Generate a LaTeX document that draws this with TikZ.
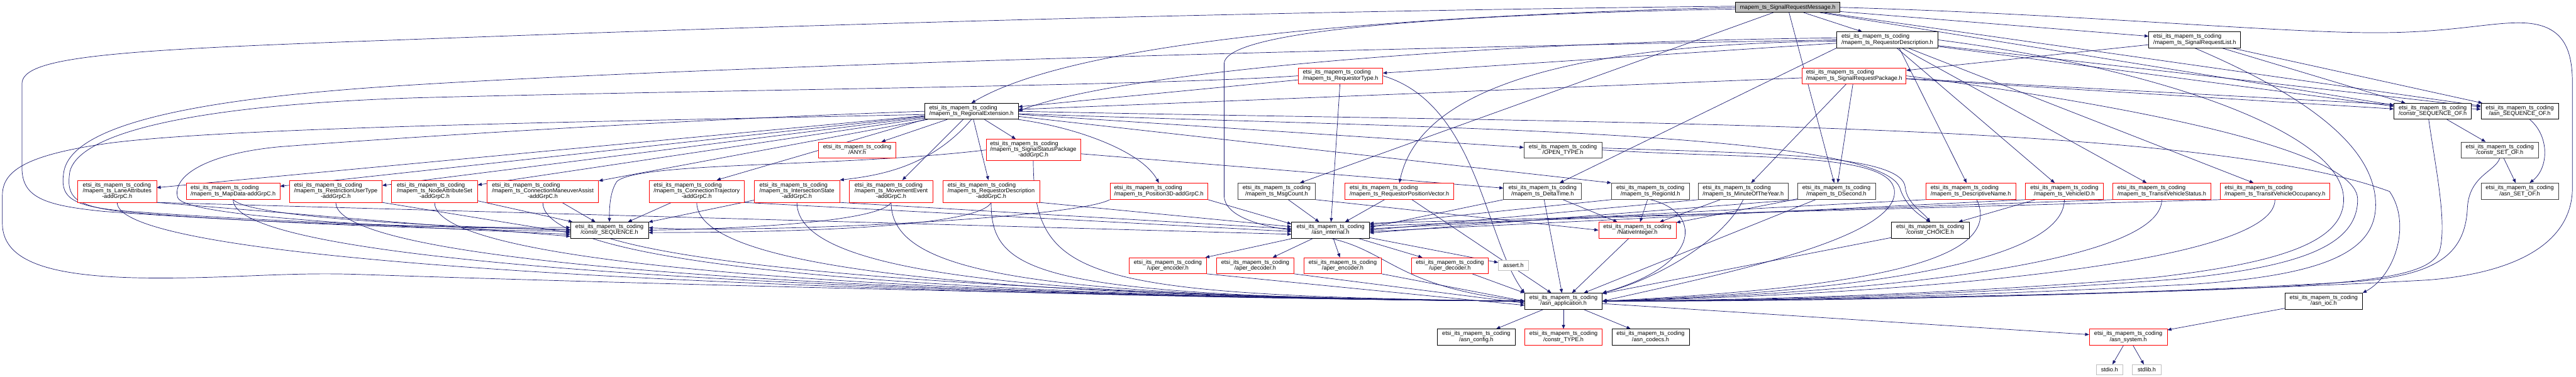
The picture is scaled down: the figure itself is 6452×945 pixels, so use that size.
\documentclass[tikz,border=0pt]{standalone}
\usepackage{fontspec}
\setmainfont{Liberation Sans}
\usetikzlibrary{arrows.meta}
\pgfdeclarelayer{background}
\pgfsetlayers{background,main}
\definecolor{edgeblue}{HTML}{191970}
\definecolor{greyfill}{HTML}{BFBFBF}
\definecolor{greyline}{HTML}{BFBFBF}
\definecolor{darkline}{HTML}{404040}
\newcommand{\Epre}{etsi\_its\_mapem\_ts\_coding}
\newcommand{\twol}[2]{\begin{tabular}{@{}c@{}}\multicolumn{1}{@{}l@{}}{#1}\\#2\end{tabular}}
\newcommand{\threel}[3]{\begin{tabular}{@{}c@{}}\multicolumn{1}{@{}l@{}}{#1}\\\multicolumn{1}{@{}l@{}}{#2}\\#3\end{tabular}}
\newcommand{\mkbox}[7]{\node[#2, minimum width=#5pt, minimum height=#6pt] (#1) at (#3pt,-#4pt) {#7};}
\tikzset{
  gbox/.style={draw, rectangle, fill=white, inner sep=0pt, line width=1.1pt, font=\fontsize{14.4}{14}\selectfont},
  nb/.style={gbox, draw=black},
  ndk/.style={gbox, draw=darkline},
  nr/.style={gbox, draw=red},
  ng/.style={gbox, draw=greyline},
  nroot/.style={gbox, draw=black, fill=greyfill},
  dep/.style={draw=edgeblue, line width=1.1pt, -{Triangle[length=10pt,width=8pt]}},
}
\begin{document}
\begin{tikzpicture}[x=1pt,y=-1pt]
\useasboundingbox (0,0) rectangle (6452,945);
% ---------------- nodes (centre x, centre y, width, height) ----------------
\mkbox{root}{nroot}{4477.5}{18.5}{261}{25}{mapem\_ts\_SignalRequestMessage.h}
\mkbox{rd}{nb}{4727}{100}{254}{40}{\twol{\Epre}{/mapem\_ts\_RequestorDescription.h}}
\mkbox{srl}{nb}{5497}{100}{230}{40}{\twol{\Epre}{/mapem\_ts\_SignalRequestList.h}}
\mkbox{srp}{nr}{4644}{190}{260}{40}{\twol{\Epre}{/mapem\_ts\_SignalRequestPackage.h}}
\mkbox{rtype}{nr}{3357.5}{190}{211}{40}{\twol{\Epre}{/mapem\_ts\_RequestorType.h}}
\mkbox{rx}{nb}{2433}{279}{234}{40}{\twol{\Epre}{/mapem\_ts\_RegionalExtension.h}}
\mkbox{cso}{nb}{6093}{279}{194}{40}{\twol{\Epre}{/constr\_SEQUENCE\_OF.h}}
\mkbox{aso}{nb}{6311}{279}{194}{40}{\twol{\Epre}{/asn\_SEQUENCE\_OF.h}}
\mkbox{any}{nr}{2147}{376}{194}{40}{\twol{\Epre}{/ANY.h}}
\mkbox{ssp}{nr}{2588}{376}{236}{54}{\threel{\Epre}{/mapem\_ts\_SignalStatusPackage}{-addGrpC.h}}
\mkbox{otype}{ndk}{3914.5}{376}{195}{40}{\twol{\Epre}{/OPEN\_TYPE.h}}
\mkbox{cset}{ndk}{6261}{376}{194}{40}{\twol{\Epre}{/constr\_SET\_OF.h}}
\mkbox{la}{nr}{293.5}{479.5}{197}{55}{\threel{\Epre}{/mapem\_ts\_LaneAttributes}{-addGrpC.h}}
\mkbox{md}{nr}{584}{479.5}{234}{41}{\twol{\Epre}{/mapem\_ts\_MapData-addGrpC.h}}
\mkbox{rut}{nr}{841}{479.5}{232}{55}{\threel{\Epre}{/mapem\_ts\_RestrictionUserType}{-addGrpC.h}}
\mkbox{nas}{nr}{1088.5}{479.5}{215}{55}{\threel{\Epre}{/mapem\_ts\_NodeAttributeSet}{-addGrpC.h}}
\mkbox{cma}{nr}{1359.5}{479.5}{279}{55}{\threel{\Epre}{/mapem\_ts\_ConnectionManeuverAssist}{-addGrpC.h}}
\mkbox{ctr}{nr}{1745}{479.5}{238}{55}{\threel{\Epre}{/mapem\_ts\_ConnectionTrajectory}{-addGrpC.h}}
\mkbox{ist}{nr}{1996}{479.5}{214}{55}{\threel{\Epre}{/mapem\_ts\_IntersectionState}{-addGrpC.h}}
\mkbox{mev}{nr}{2232}{479.5}{210}{55}{\threel{\Epre}{/mapem\_ts\_MovementEvent}{-addGrpC.h}}
\mkbox{rda}{nr}{2482.5}{479.5}{243}{55}{\threel{\Epre}{/mapem\_ts\_RequestorDescription}{-addGrpC.h}}
\mkbox{p3d}{nr}{2902.5}{479.5}{245}{41}{\twol{\Epre}{/mapem\_ts\_Position3D-addGrpC.h}}
\mkbox{msg}{ndk}{3197.5}{479.5}{195}{41}{\twol{\Epre}{/mapem\_ts\_MsgCount.h}}
\mkbox{rpv}{nr}{3505}{479.5}{272}{41}{\twol{\Epre}{/mapem\_ts\_RequestorPositionVector.h}}
\mkbox{dt}{ndk}{3863.5}{479.5}{195}{41}{\twol{\Epre}{/mapem\_ts\_DeltaTime.h}}
\mkbox{rid}{ndk}{4133.5}{479.5}{195}{41}{\twol{\Epre}{/mapem\_ts\_RegionId.h}}
\mkbox{moy}{ndk}{4366}{479.5}{224}{41}{\twol{\Epre}{/mapem\_ts\_MinuteOfTheYear.h}}
\mkbox{dsec}{ndk}{4599.5}{479.5}{195}{41}{\twol{\Epre}{/mapem\_ts\_DSecond.h}}
\mkbox{dn}{nr}{4936}{479.5}{226}{41}{\twol{\Epre}{/mapem\_ts\_DescriptiveName.h}}
\mkbox{vid}{nr}{5170.5}{479.5}{195}{41}{\twol{\Epre}{/mapem\_ts\_VehicleID.h}}
\mkbox{tvs}{nr}{5414.5}{479.5}{245}{41}{\twol{\Epre}{/mapem\_ts\_TransitVehicleStatus.h}}
\mkbox{tvo}{nr}{5698}{479.5}{274}{41}{\twol{\Epre}{/mapem\_ts\_TransitVehicleOccupancy.h}}
\mkbox{aset}{ndk}{6311}{479.5}{194}{41}{\twol{\Epre}{/asn\_SET\_OF.h}}
\mkbox{cseq}{nb}{1526.5}{577}{195}{40}{\twol{\Epre}{/constr\_SEQUENCE.h}}
\mkbox{aint}{nb}{3332.5}{577}{195}{40}{\twol{\Epre}{/asn\_internal.h}}
\mkbox{nint}{nr}{4101}{577}{194}{40}{\twol{\Epre}{/NativeInteger.h}}
\mkbox{cch}{nb}{4834.5}{577}{195}{40}{\twol{\Epre}{/constr\_CHOICE.h}}
\mkbox{uenc}{nr}{2925}{666}{194}{40}{\twol{\Epre}{/uper\_encoder.h}}
\mkbox{adec}{nr}{3144}{666}{194}{40}{\twol{\Epre}{/aper\_decoder.h}}
\mkbox{aenc}{nr}{3363}{666}{194}{40}{\twol{\Epre}{/aper\_encoder.h}}
\mkbox{udec}{nr}{3631.5}{666}{193}{40}{\twol{\Epre}{/uper\_decoder.h}}
\mkbox{assert}{ng}{3790.5}{665.5}{75}{25}{assert.h}
\mkbox{aapp}{nb}{3916}{755}{194}{40}{\twol{\Epre}{/asn\_application.h}}
\mkbox{aioc}{nb}{5820}{755}{194}{40}{\twol{\Epre}{/asn\_ioc.h}}
\mkbox{acfg}{nb}{3697.5}{845}{195}{40}{\twol{\Epre}{/asn\_config.h}}
\mkbox{ctype}{nr}{3916}{845}{194}{40}{\twol{\Epre}{/constr\_TYPE.h}}
\mkbox{acod}{nb}{4134}{845}{194}{40}{\twol{\Epre}{/asn\_codecs.h}}
\mkbox{asys}{nr}{5330.5}{845}{195}{40}{\twol{\Epre}{/asn\_system.h}}
\mkbox{stdio}{ng}{5283.5}{926.5}{67}{25}{stdio.h}
\mkbox{stdlib}{ng}{5377}{926.5}{72}{25}{stdlib.h}
% ---------------- edges ----------------
\begin{pgfonlayer}{background}
\fill[white] (0,0) rectangle (6452,945);
\foreach \src/\dst in {root/rd, root/srl, root/cso, root/aso, root/msg, root/dsec,
  rd/rtype, rd/vid, rd/tvs, rd/tvo, rd/cso, rd/aso,
  srl/srp, srl/cso, srl/aso,
  srp/rx, srp/moy, srp/dsec, srp/cso, srp/aso,
  rtype/rx, rtype/aint,
  rx/la, rx/md, rx/rut, rx/nas, rx/cma, rx/mev, rx/rda, rx/ssp, rx/any, rx/otype,
  ssp/dt, nas/cseq, cma/cseq, ctr/cseq, ist/cseq,
  msg/aint, rpv/aint, rpv/aapp, dt/nint, rid/nint, moy/nint, dsec/nint, vid/cch,
  dt/aapp, dsec/aapp, cso/cset, cset/aset, nint/aapp, cch/aapp,
  aint/uenc, aint/adec, aint/aenc, aint/udec, aint/assert,
  aapp/acfg, aapp/ctype, aapp/acod, aapp/asys, aioc/asys, asys/stdio, asys/stdlib}
  \draw[dep] (\src) -- (\dst);
% root
\draw[dep] (root.west) .. controls (3500,40) and (2700,100) .. (rx.north);
\draw[dep] ([yshift=-4pt]root.west) .. controls (3700,35) and (3066,70) .. (3066,160) -- (3066,490) .. controls (3066,540) and (3150,565) .. (aint.west);
\draw[dep] ([yshift=3pt]root.west) .. controls (3000,30) and (1800,70) .. (1000,100) .. controls (300,125) and (55,140) .. (55,210) -- (55,420) .. controls (55,495) and (110,515) .. (260,530) .. controls (700,562) and (1100,572) .. (cseq.176);
\draw[dep] (root.east) .. controls (5200,35) and (5700,82) .. (5950,82) .. controls (6150,82) and (6250,52) .. (6330,58) .. controls (6425,66) and (6443,130) .. (6443,210) -- (6443,470) .. controls (6443,610) and (6300,685) .. (6080,702) .. controls (5500,735) and (4600,752) .. (aapp.east);
% requestor description
\draw[dep] (rd.west) .. controls (3200,125) and (1700,170) .. (1000,215) .. controls (450,250) and (180,320) .. (160,430) .. controls (150,490) and (170,515) .. (300,528) .. controls (700,558) and (1100,570) .. (cseq.179);
\draw[dep] ([yshift=-3pt]rd.west) .. controls (4000,110) and (3560,200) .. (rpv.north);
\draw[dep] ([yshift=5pt]rd.west) .. controls (3700,105) and (2800,180) .. (rx.east);
\draw[dep] (rd.south west) -- (dt);
\draw[dep] ([xshift=30pt]rd.south) -- (dn);
\draw[dep] (rd.east) .. controls (5400,170) and (5870,330) .. (5870,500) .. controls (5870,610) and (5700,660) .. (5400,695) .. controls (4900,738) and (4400,752) .. (aapp.east);
% signal request list / package
\draw[dep] (srl.south) .. controls (5800,250) and (5955,380) .. (5950,520) .. controls (5945,640) and (5800,690) .. (5500,712) .. controls (4900,745) and (4400,754) .. (aapp.east);
\draw[dep] (srp.east) .. controls (5300,260) and (5905,370) .. (5905,500) .. controls (5905,620) and (5750,670) .. (5450,700) .. controls (4900,742) and (4400,753) .. (aapp.east);
% requestor type
\draw[dep] (rtype.west) .. controls (2900,215) and (1800,225) .. (1050,245) .. controls (500,262) and (200,330) .. (175,430) .. controls (165,495) and (185,518) .. (320,532) .. controls (700,562) and (1100,574) .. (cseq.182);
\draw[dep] (rtype.east) .. controls (3700,260) and (3720,600) .. (aapp.north west);
% regional extension
\draw[dep] (rx.west) .. controls (1700,300) and (1000,345) .. (700,368) .. controls (520,385) and (430,440) .. (445,495) .. controls (460,540) and (900,565) .. (cseq.186);
\draw[dep] ([yshift=-8pt]rx.west) .. controls (1500,305) and (600,318) .. (280,358) .. controls (60,388) and (6,430) .. (6,490) -- (6,560) .. controls (6,665) and (150,697) .. (400,697) .. controls (600,697) and (720,682) .. (900,688) .. controls (1800,718) and (3100,748) .. (aapp.west);
\draw[dep] (rx.east) .. controls (4000,310) and (5500,300) .. (5985,480) .. controls (6040,560) and (6000,690) .. (aioc.north east);
\draw[dep] ([yshift=-6pt]rx.east) .. controls (3500,320) and (4700,325) .. (4758,470) .. controls (4770,510) and (4800,535) .. (cch.north);
\draw[dep] (rx.south east) .. controls (2700,320) and (2860,380) .. (p3d.north);
\draw[dep] (rx.south) .. controls (2330,420) and (2200,440) .. (ist.north east);
\draw[dep] (rx.south west) -- ([xshift=50pt]ctr.north);
\draw[dep] (rx) -- (rid.north west);
% open type
\draw[dep] (otype.east) .. controls (4400,400) and (4740,380) .. (4745,480) .. controls (4750,600) and (4300,690) .. (aapp.east);
\draw[dep] ([yshift=5pt]otype.east) .. controls (4400,385) and (4765,385) .. (4772,470) .. controls (4776,510) and (4815,530) .. (cch.north);
% addGrpC -> constr_SEQUENCE
\draw[dep] (ssp.west) .. controls (2100,420) and (1600,405) .. (1545,455) .. controls (1528,480) and (1526,520) .. (cseq.north);
\draw[dep] (mev.south) .. controls (2200,560) and (1800,575) .. (cseq.east);
\draw[dep] (rda.south) .. controls (2450,575) and (1900,583) .. ([yshift=-6pt]cseq.east);
\draw[dep] (p3d.south west) .. controls (2700,545) and (1950,585) .. ([yshift=6pt]cseq.east);
\draw[dep] (md.south) .. controls (620,540) and (1000,565) .. (cseq.west);
\draw[dep] (la.south east) -- (cseq.189);
\draw[dep] (rut.south east) -- (cseq.184);
% addGrpC -> asn_application
\foreach \n/\xx in {la/293, md/584, rut/841, nas/1088, cma/1359, ctr/1745, ist/1996, mev/2232, rda/2482}
  \draw[dep] (\n.south) .. controls (\xx,690) and (2600,745) .. (aapp.west);
\draw[dep] (ssp.south) .. controls (2590,700) and (2700,740) .. (aapp.west);
\draw[dep] (cseq.south) .. controls (1800,680) and (2600,740) .. (aapp.west);
% -> asn_internal
\draw[dep] (la.south east) -- (aint.186);
\draw[dep] (ctr.south east) -- (aint.182);
\draw[dep] (ist.south east) -- (aint.178);
\draw[dep] (rda.south east) -- (aint.175);
\draw[dep] (p3d.south east) -- (aint.171);
\draw[dep] (dt.south west) -- (aint.4);
\draw[dep] (rid.south west) -- (aint.8);
\draw[dep] (moy.south west) -- (aint.0);
\draw[dep] (dsec.south west) -- (aint.356);
\draw[dep] (dn.south west) -- (aint.2);
\draw[dep] (vid.south west) -- (aint.358);
\draw[dep] (tvs.south west) -- (aint.6);
\draw[dep] (tvo.south west) -- (aint.10);
% right row -> asn_application
\draw[dep] (rid.south) .. controls (4260,530) and (4270,660) .. (aapp.north east);
\draw[dep] (moy.south) .. controls (4320,600) and (4150,700) .. (aapp.north east);
\draw[dep] ([xshift=15pt]dn.south) .. controls (5020,650) and (4700,720) .. (aapp.east);
\draw[dep] (vid.south) .. controls (5170,650) and (4700,730) .. (aapp.east);
\draw[dep] (tvs.south) .. controls (5414,660) and (4700,735) .. (aapp.east);
\draw[dep] (tvo.south) .. controls (5698,670) and (4700,740) .. (aapp.east);
\draw[dep] (msg.south east) -- (nint.west);
% sequence-of / set-of
\draw[dep] ([xshift=-10pt]cso.south) .. controls (6100,420) and (6130,560) .. (6110,630) .. controls (6085,690) and (5950,712) .. (5500,728) .. controls (4900,748) and (4400,756) .. (aapp.east);
\draw[dep] (cset.south) .. controls (6250,430) and (6185,440) .. (6180,520) .. controls (6175,640) and (6100,690) .. (5900,706) .. controls (5300,742) and (4600,754) .. (aapp.east);
\draw[dep] ([xshift=25pt]aso.south) .. controls (6385,340) and (6385,420) .. ([xshift=25pt]aset.north);
% internal / codecs
\draw[dep] (aint.south) .. controls (3480,630) and (3500,720) .. (aapp.west);
\draw[dep] (uenc.south east) -- (aapp.186);
\draw[dep] (adec.south east) -- (aapp.183);
\draw[dep] (aenc.south east) -- (aapp.180);
\draw[dep] (udec) -- (aapp.north west);
\end{pgfonlayer}
\end{tikzpicture}
\end{document}
